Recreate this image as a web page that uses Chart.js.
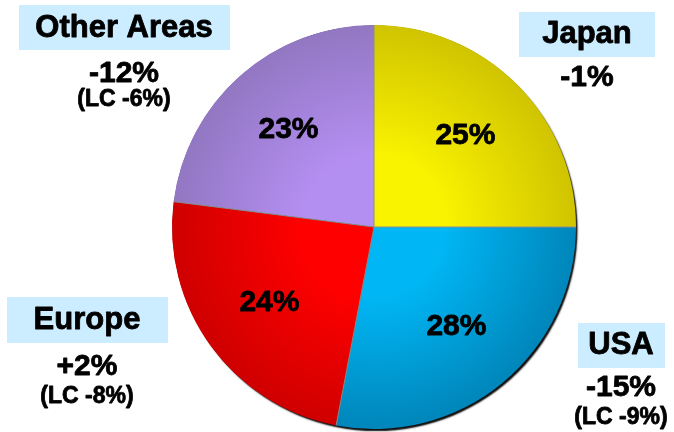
<!DOCTYPE html>
<html>
<head>
<meta charset="utf-8">
<script src="https://cdn.jsdelivr.net/npm/chart.js@4"></script>
<style>
  html, body { margin: 0; padding: 0; background: #ffffff; }
  #wrap { width: 674px; height: 432px; position: relative; }
</style>
</head>
<body>
<div id="wrap"><canvas id="pie" width="674" height="432"></canvas></div>
<script>
// Sales share by region (clockwise from 12 o'clock)
const regions = ['Japan', 'USA', 'Europe', 'Other Areas'];
const shares = [25, 28, 24, 23];
// Year-on-year change and change in local currency
const changes = ['-1%', '-15%', '+2%', '-12%'];
const localChanges = ['', '(LC -9%)', '(LC -8%)', '(LC -6%)'];

// Slice shading: light towards the centre, darker at the rim
const innerColors = ['#faf300', '#00b6f4', '#ff0000', '#b48ff2'];
const outerColors = ['#d0c400', '#0086ba', '#cf0000', '#9277c2'];

// Region captions placed around the pie
const captions = [
  { i: 0, box: [519, 12, 136, 45], cx: 587, title: 34, chg: 78, lc: null },
  { i: 1, box: [578, 323, 87, 45], cx: 621, title: 345, chg: 388, lc: 418 },
  { i: 2, box: [7, 297, 161, 46], cx: 87, title: 320, chg: 367, lc: 397 },
  { i: 3, box: [19, 5, 211, 45], cx: 124, title: 28, chg: 74, lc: 100 }
];

const FONT = '"Liberation Sans", Arial, Helvetica, sans-serif';

// heavy bold text: fill plus a thin stroke of the same colour
function boldText(c, txt, x, y) {
  c.fillText(txt, x, y);
  c.strokeText(txt, x, y);
}

const shadowPlugin = {
  id: 'pieShadow',
  beforeDatasetsDraw(chart) {
    const arc = chart.getDatasetMeta(0).data[0];
    if (!arc) return;
    const { x, y, outerRadius } = arc.getProps(['x', 'y', 'outerRadius'], true);
    const c = chart.ctx;
    c.save();
    c.shadowColor = 'rgba(0,0,0,0.95)';
    c.shadowBlur = 1.5;
    c.shadowOffsetX = 2;
    c.shadowOffsetY = 2.5;
    c.fillStyle = '#000';
    c.beginPath();
    c.arc(x, y, outerRadius - 0.5, 0, Math.PI * 2);
    c.fill();
    c.restore();
  }
};

const labelPlugin = {
  id: 'pieLabels',
  afterDatasetsDraw(chart) {
    const c = chart.ctx;
    const meta = chart.getDatasetMeta(0);
    // thin grey separators between slices
    c.save();
    c.strokeStyle = '#8c8c8c';
    c.lineWidth = 1;
    meta.data.forEach((el) => {
      const { x, y, startAngle, outerRadius } = el.getProps(['x', 'y', 'startAngle', 'outerRadius'], true);
      c.beginPath();
      c.moveTo(x, y);
      c.lineTo(x + Math.cos(startAngle) * outerRadius, y + Math.sin(startAngle) * outerRadius);
      c.stroke();
    });
    // percentage inside each slice
    c.fillStyle = '#000';
    c.strokeStyle = '#000';
    c.lineWidth = 0.8;
    c.lineJoin = 'round';
    c.font = 'bold 30px ' + FONT;
    c.textAlign = 'center';
    c.textBaseline = 'middle';
    meta.data.forEach((el, i) => {
      const { x, y, startAngle, endAngle, outerRadius } =
        el.getProps(['x', 'y', 'startAngle', 'endAngle', 'outerRadius'], true);
      const mid = (startAngle + endAngle) / 2;
      const r = outerRadius * 0.64;
      boldText(c, shares[i] + '%', x + Math.cos(mid) * r, y + Math.sin(mid) * r);
    });
    // region captions
    captions.forEach((cap) => {
      const [bx, by, bw, bh] = cap.box;
      c.fillStyle = '#ccecff';
      c.fillRect(bx, by, bw, bh);
      c.fillStyle = '#000';
      c.font = 'bold 31px ' + FONT;
      boldText(c, regions[cap.i], cap.cx, cap.title);
      c.font = 'bold 30px ' + FONT;
      boldText(c, changes[cap.i], cap.cx, cap.chg);
      if (cap.lc !== null) {
        c.font = 'bold 23px ' + FONT;
        boldText(c, localChanges[cap.i], cap.cx, cap.lc);
      }
    });
    c.restore();
  }
};

new Chart(document.getElementById('pie'), {
  type: 'pie',
  data: {
    labels: regions,
    datasets: [{
      data: shares,
      borderWidth: 0,
      backgroundColor: (ctx) => {
        const chart = ctx.chart;
        const a = chart.chartArea;
        const i = ctx.dataIndex;
        if (!a) return outerColors[i];
        const cx = (a.left + a.right) / 2, cy = (a.top + a.bottom) / 2;
        const r = Math.min(a.width, a.height) / 2;
        const g = chart.ctx.createRadialGradient(cx, cy, 0, cx, cy, r);
        g.addColorStop(0, innerColors[i]);
        g.addColorStop(0.35, innerColors[i]);
        g.addColorStop(1, outerColors[i]);
        return g;
      }
    }]
  },
  options: {
    responsive: false,
    animation: false,
    layout: { padding: { left: 172, right: 98, top: 25, bottom: 3 } },
    plugins: {
      legend: { display: false },
      tooltip: { enabled: false }
    }
  },
  plugins: [shadowPlugin, labelPlugin]
});
</script>
</body>
</html>
